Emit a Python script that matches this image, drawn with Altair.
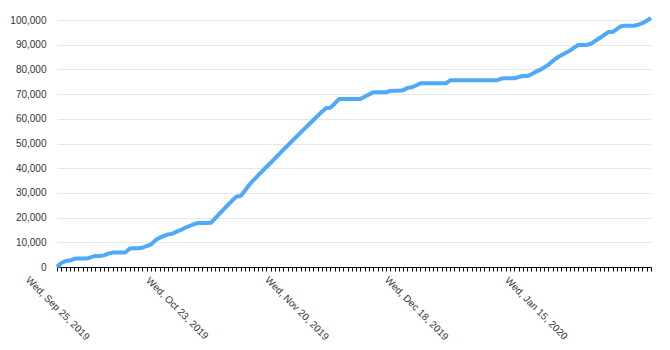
import altair as alt
import pandas as pd

start_date = "2019-09-25"
values = [
    0, 1600, 2400, 2600, 3300, 3400, 3400, 3400, 4000, 4460,
    4460, 4700, 5400, 5840, 5840, 5840, 5900, 7450, 7580, 7580,
    7800, 8500, 9150, 10800, 11800, 12600, 13200, 13500, 14300, 15000,
    15900, 16600, 17300, 17840, 17840, 17840, 17900, 19700, 21500, 23300,
    25100, 26900, 28500, 28700, 31000, 33300, 35200, 37000, 38700, 40500,
    42200, 44000, 45700, 47500, 49200, 51000, 52700, 54400, 56100, 57800,
    59500, 61200, 62900, 64400, 64500, 66200, 68000, 68000, 68000, 68000,
    68000, 68000, 68900, 69800, 70700, 70700, 70700, 70700, 71300, 71400,
    71400, 71600, 72500, 72730, 73500, 74350, 74350, 74350, 74350, 74350,
    74350, 74350, 75600, 75600, 75600, 75600, 75600, 75600, 75600, 75600,
    75600, 75600, 75600, 75600, 76300, 76400, 76400, 76400, 76900, 77300,
    77300, 78000, 79000, 79800, 80800, 81900, 83400, 84700, 85700, 86600,
    87600, 88800, 89900, 89900, 89900, 90400, 91600, 92700, 93900, 95100,
    95150, 96300, 97500, 97700, 97700, 97700, 98100, 98700, 99700, 100800,
]
y_ticks = [0, 10000, 20000, 30000, 40000, 50000, 60000, 70000, 80000, 90000, 100000]

dates = pd.date_range(start_date, periods=len(values), freq="D")
df = pd.DataFrame({"date": dates.strftime("%Y-%m-%d"), "value": values})

t0 = int(pd.Timestamp(start_date, tz="UTC").value // 10**6)
tick_ms = [t0 + i * 86400000 for i in range(len(values))]

label_expr = (
    f"((datum.value - {t0}) / 86400000) % 28 == 0 ? "
    "utcFormat(datum.value, '%a, %b %d, %Y') : ''"
)

chart = (
    alt.Chart(df)
    .mark_line(color="#4fa9f8", strokeWidth=4, strokeJoin="round")
    .encode(
        x=alt.X(
            "date:T",
            scale=alt.Scale(type="utc", domain=[tick_ms[0], tick_ms[-1]], nice=False),
            axis=alt.Axis(
                title=None,
                values=tick_ms,
                labelExpr=label_expr,
                labelAngle=45,
                labelAlign="center",
                labelBaseline="middle",
                labelPadding=37,
                labelFlush=False,
                labelOverlap=False,
                labelBound=False,
                labelFont="Liberation Sans",
                labelFontSize=10,
                labelColor="#333",
                tickSize=4,
                tickColor="#000",
                domainColor="#000",
                grid=False,
            ),
        ),
        y=alt.Y(
            "value:Q",
            scale=alt.Scale(domain=[0, 100000], nice=False),
            axis=alt.Axis(
                title=None,
                values=y_ticks,
                format=",.0f",
                domain=False,
                ticks=False,
                labelPadding=11,
                labelFont="Liberation Sans",
                labelFontSize=10,
                labelColor="#333",
                gridColor="#e8e8e8",
            ),
        ),
    )
    .properties(
        width=594,
        height=247,
        autosize=alt.AutoSizeParams(type="none"),
        padding={"left": 57, "top": 20, "right": 19, "bottom": 83},
    )
    .configure_view(stroke=None)
)

chart.save("out.html", embed_options={"renderer": "svg", "actions": False})
